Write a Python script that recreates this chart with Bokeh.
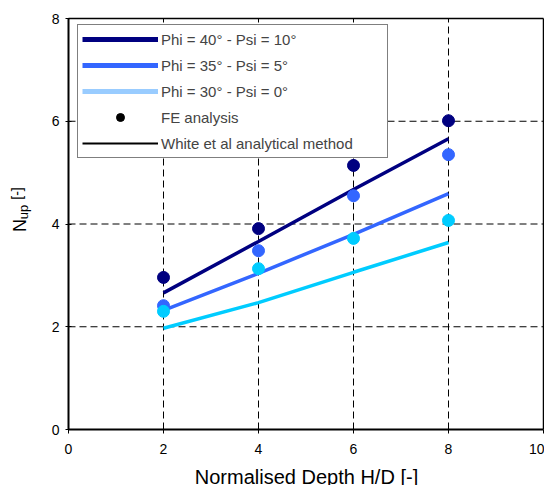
from bokeh.plotting import figure
from bokeh.models import Range1d, FixedTicker, Legend, LegendItem, Label, LinearAxis
from bokeh.embed import file_html
from bokeh.resources import INLINE
import math

# ---- data ----
depth = [2, 4, 6, 8]
fe_40 = [2.96, 3.91, 5.14, 6.01]
fe_35 = [2.41, 3.48, 4.55, 5.35]
fe_30 = [2.30, 3.13, 3.72, 4.07]
an_40 = [2.66, 3.66, 4.67, 5.66]
an_35 = [2.32, 3.04, 3.80, 4.59]
an_30 = [1.97, 2.47, 3.06, 3.64]
x_ticks = [0, 2, 4, 6, 8, 10]
y_ticks = [0, 2, 4, 6, 8]
legend_labels = ["Phi = 40° - Psi = 10°", "Phi = 35° - Psi = 5°", "Phi = 30° - Psi = 0°",
                 "FE analysis", "White et al analytical method"]

NAVY = "#000080"
BLUE = "#3366FF"
CYAN = "#00CCFF"
LIGHT = "#99CCFF"
FONT = "Liberation Sans"
NAN = float("nan")

# canvas geometry (px); axes sit inside the frame at x=0 / y=0
W, H = 544, 485
X0_PX, X10_PX = 68, 543      # canvas x of x=0 and x=10
Y8_PX, Y0_PX = 18, 429       # canvas y of y=8 and y=0
xs = (X10_PX - X0_PX) / 10.0
ys = (Y0_PX - Y8_PX) / 8.0
x_range = Range1d(-X0_PX / xs, 10 + (W - X10_PX) / xs)
y_range = Range1d(-(H - Y0_PX) / ys, 8 + Y8_PX / ys)

def dx(px):
    return (px - X0_PX) / xs
def dy(py):
    return (Y0_PX - py) / ys

p = figure(width=W, height=H, output_backend="svg", toolbar_location=None,
           x_range=x_range, y_range=y_range, x_axis_location=None, y_axis_location=None,
           min_border=0)
p.outline_line_color = None
p.background_fill_color = "white"
p.border_fill_color = "white"
p.xgrid.visible = False
p.ygrid.visible = False

xax = LinearAxis(fixed_location=0, bounds=(x_ticks[0], x_ticks[-1]))
yax = LinearAxis(fixed_location=0, bounds=(y_ticks[0], y_ticks[-1]))
for ax, ticks in ((xax, x_ticks), (yax, y_ticks)):
    ax.ticker = FixedTicker(ticks=ticks)
    ax.axis_line_color = "black"
    ax.axis_line_width = 2
    ax.major_tick_line_color = "black"
    ax.major_tick_in = 3
    ax.major_tick_out = 3
    ax.minor_tick_line_color = None
    ax.major_label_text_font = FONT
    ax.major_label_text_font_size = "14px"
    ax.major_label_text_color = "black"
xax.major_tick_in = 0
xax.major_tick_out = 4
xax.major_label_standoff = 10
yax.major_label_standoff = 6
p.add_layout(xax, "below")
p.add_layout(yax, "left")

# dashed grid and frame border
gx = x_ticks[1:-1]
p.segment(x0=gx, y0=[y_ticks[0]] * len(gx), x1=gx, y1=[y_ticks[-1]] * len(gx),
          line_color="black", line_dash="7 4", line_width=1)
gy = y_ticks[1:-1]
p.segment(x0=[x_ticks[0]] * len(gy), y0=gy, x1=[x_ticks[-1]] * len(gy), y1=gy,
          line_color="black", line_dash="7 4", line_width=1)
p.segment(x0=[x_ticks[0], x_ticks[-1]], y0=[y_ticks[-1], y_ticks[0]],
          x1=[x_ticks[-1], x_ticks[-1]], y1=[y_ticks[-1], y_ticks[-1]],
          line_color="black", line_width=1.5)

# analytical lines
p.line(depth, an_40, line_color=NAVY, line_width=3.5)
p.line(depth, an_35, line_color=BLUE, line_width=3.5)
p.line(depth, an_30, line_color=CYAN, line_width=3.5)
# FE points
p.scatter(depth, fe_40, size=12, fill_color=NAVY, line_color=NAVY)
p.scatter(depth, fe_35, size=12, fill_color=BLUE, line_color=BLUE)
p.scatter(depth, fe_30, size=12, fill_color=CYAN, line_color=CYAN)

# legend-only renderers (nothing drawn in the plot)
r1 = p.line([NAN], [NAN], line_color=NAVY, line_width=5)
r2 = p.line([NAN], [NAN], line_color=BLUE, line_width=5)
r3 = p.line([NAN], [NAN], line_color=LIGHT, line_width=5)
r4 = p.scatter([NAN], [NAN], size=8, fill_color="black", line_color="black")
r5 = p.line([NAN], [NAN], line_color="black", line_width=2)

legend = Legend(items=[LegendItem(label=legend_labels[i], renderers=[r])
                       for i, r in enumerate([r1, r2, r3, r4, r5])],
                location=(77, H - 158), margin=0, padding=4, spacing=6,
                glyph_width=76, glyph_height=20, label_height=20, label_width=222,
                label_standoff=3, label_text_font=FONT, label_text_font_size="15px",
                border_line_color="black", border_line_width=1,
                background_fill_color="white", background_fill_alpha=1.0)
p.add_layout(legend, "center")

# axis titles (positioned by their centres)
def title(px, py, text, size, angle=0.0):
    p.add_layout(Label(x=dx(px), y=dy(py), text=text, angle=angle, text_align="center",
                       text_baseline="middle", text_font=FONT, text_font_size=size,
                       text_color="black"))

title(306, 476, "Normalised Depth H/D [-]", "20px")
title(19.5, 225, "N", "18px", math.pi / 2)
title(23, 211.5, "up", "13px", math.pi / 2)
title(16.5, 193, "[-]", "14px", math.pi / 2)

open("out.html", "w").write(file_html(p, INLINE))
